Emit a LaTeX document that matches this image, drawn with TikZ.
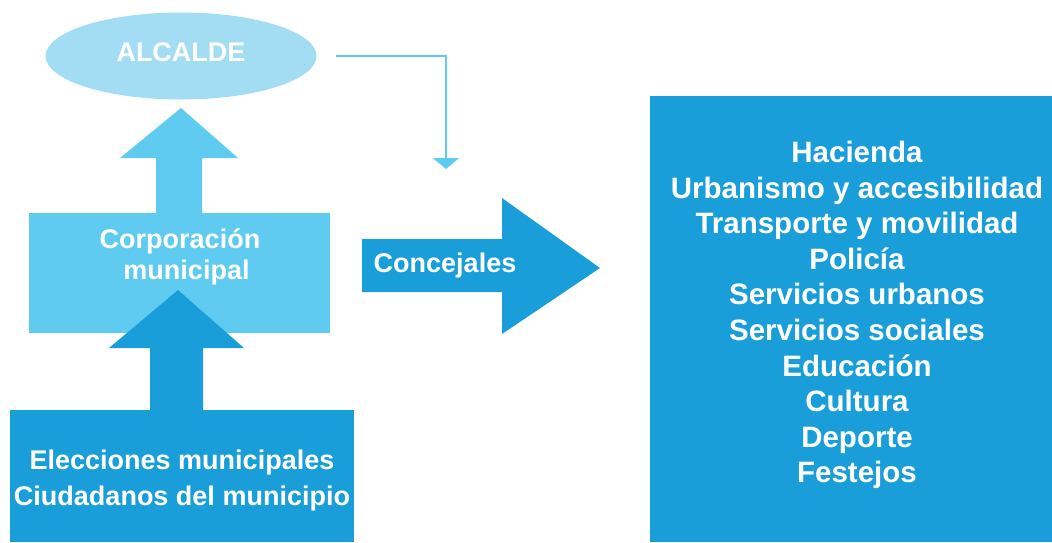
\documentclass[tikz,border=0pt]{standalone}
\usepackage{fontspec}
\setmainfont{Liberation Sans}
\usetikzlibrary{shapes.geometric,arrows.meta,positioning}
\definecolor{celeste}{HTML}{A3DDF4}
\definecolor{azulmedio}{HTML}{5FCBF1}
\definecolor{azul}{HTML}{1A9ED9}
\tikzset{
	caja/.style = {fill=#1, inner sep=0pt, anchor=north west},
	rotulo/.style = {text=white, inner sep=0pt, align=center, font=\bfseries\fontsize{27}{31}\selectfont},
}

\begin{document}
\begin{tikzpicture}[x=1pt, y=-1pt]
		\useasboundingbox (0,0) rectangle (1052,542);
		% alcalde
		\node[ellipse, fill=celeste, inner sep=0pt, minimum width=271pt, minimum height=87pt] (alcalde) at (181,56) {};
		\node[rotulo] (alcaldetxt) at (181,52) {ALCALDE};
		% flecha hacia el alcalde
		\fill[azulmedio] (156,214) -- (156,158) -- (120,158) -- (181,108) -- (238,158) -- (202,158) -- (202,214) -- cycle;
		% corporacion
		\node[caja=azulmedio, minimum width=301pt, minimum height=120pt] (corporacion) at (29,213) {};
		\node[rotulo] (corporaciontxt) at (180,257) {Corporación\\\hspace*{13pt}municipal};
		% flecha de los ciudadanos
		\fill[azul] (150,411) -- (150,348) -- (109,348) -- (178,290) -- (244,348) -- (203,348) -- (203,411) -- cycle;
		\node[caja=azul, minimum width=344pt, minimum height=132pt] (elecciones) at (10,410) {};
		\node[rotulo, font=\bfseries\fontsize{27}{36}\selectfont] (eleccionestxt) at (182,481) {Elecciones municipales\\Ciudadanos del municipio};
		% concejales
		\fill[azul] (362,239) -- (502,239) -- (502,198) -- (600,268) -- (502,334) -- (502,292) -- (362,292) -- cycle;
		\node[rotulo] (concejales) at (445,266) {Concejales};
		\coordinate (destino) at (446,169);
		\draw[azulmedio, line width=2pt, -{Triangle[width=26pt, length=11pt]}] ([xshift=19pt]alcalde.east) -| (destino);
		% areas de gobierno
		\node[caja=azul, minimum width=402pt, minimum height=446pt] (areas) at (650,96) {};
		\node[rotulo, font=\bfseries\fontsize{29.5}{35.6}\selectfont] (areastxt) at (857,315) {Hacienda\\Urbanismo y accesibilidad\\Transporte y movilidad\\Policía\\Servicios urbanos\\Servicios sociales\\Educación\\Cultura\\Deporte\\Festejos};
	\end{tikzpicture}
\end{document}
